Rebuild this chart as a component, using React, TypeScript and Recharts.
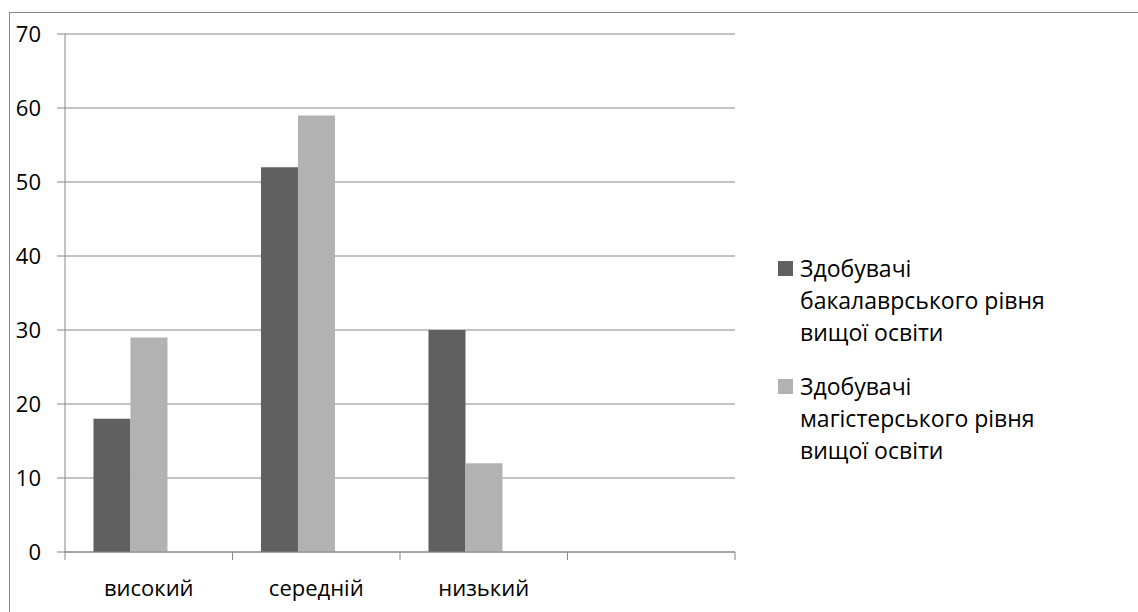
import { Bar, BarChart, CartesianGrid, XAxis, YAxis } from "recharts";

const categories = ["високий", "середній", "низький", ""];
const bachelor = [18, 52, 30, null];
const master = [29, 59, 12, null];
const yTicks = [0, 10, 20, 30, 40, 50, 60, 70];
const seriesNames = [
  "Здобувачі\nбакалаврського рівня\nвищої освіти",
  "Здобувачі\nмагістерського рівня\nвищої освіти",
];

const COLORS = ["#606060", "#b2b2b2"];
const AXIS = "#868686";
const FONT = "'Open Sans', sans-serif";

const CHART_W = 1120;
const CHART_H = 590;
const MARGIN = { top: 21, right: 395, bottom: 0, left: 0 };
const Y_W = 55;
const PLOT_W = CHART_W - MARGIN.left - MARGIN.right - Y_W;

const data = categories.map((name, i) => ({
  name,
  bachelor: bachelor[i],
  master: master[i],
  empty: null,
}));

const CategoryTick = (props: any) => {
  const { x, y, payload, index } = props;
  const half = payload?.offset ?? PLOT_W / categories.length / 2;
  return (
    <g>
      <line x1={x - half} x2={x - half} y1={y} y2={y + 8} stroke={AXIS} />
      {index === categories.length - 1 && (
        <line x1={x + half} x2={x + half} y1={y} y2={y + 8} stroke={AXIS} />
      )}
      <text
        x={x}
        y={y + 36}
        dy="0.35em"
        textAnchor="middle"
        fill="#000"
        fontSize={22}
        fontFamily={FONT}
      >
        {payload.value}
      </text>
    </g>
  );
};

// legend drawn beside the chart, not through <Legend>, so the plot keeps its width
const ChartLegend = () => (
  <div
    style={{
      position: "absolute",
      left: 768,
      top: 239,
      fontFamily: FONT,
      fontSize: 23,
      lineHeight: "32px",
      color: "#000",
    }}
  >
    {seriesNames.map((name, i) => (
      <div key={i} style={{ display: "flex", marginBottom: i === 0 ? 22 : 0 }}>
        <div
          style={{
            width: 15,
            height: 15,
            marginTop: 9,
            marginRight: 7,
            background: COLORS[i],
            flexShrink: 0,
          }}
        />
        <div style={{ whiteSpace: "pre" }}>{name}</div>
      </div>
    ))}
  </div>
);

export default function App() {
  return (
    <div
      style={{
        position: "fixed",
        left: 9,
        top: 12,
        width: 1140,
        height: 610,
        borderTop: `1px solid ${AXIS}`,
        borderLeft: `1px solid ${AXIS}`,
        background: "#fff",
      }}
    >
      <BarChart
        width={CHART_W}
        height={CHART_H}
        data={data}
        margin={MARGIN}
        barCategoryGap="17%"
        barGap={0}
      >
        <CartesianGrid vertical={false} stroke={AXIS} />
        <XAxis
          dataKey="name"
          height={51}
          stroke={AXIS}
          tickLine={false}
          tickSize={0}
          tickMargin={0}
          interval={0}
          tick={<CategoryTick />}
        />
        <YAxis
          width={Y_W}
          domain={[0, 70]}
          ticks={yTicks}
          interval={0}
          stroke={AXIS}
          tickSize={8}
          tickMargin={16}
          tick={{ fill: "#000", fontSize: 22, fontFamily: FONT }}
        />
        <Bar dataKey="bachelor" fill={COLORS[0]} isAnimationActive={false} />
        <Bar dataKey="master" fill={COLORS[1]} isAnimationActive={false} />
        <Bar dataKey="empty" fill="transparent" isAnimationActive={false} />
      </BarChart>
      <ChartLegend />
    </div>
  );
}
